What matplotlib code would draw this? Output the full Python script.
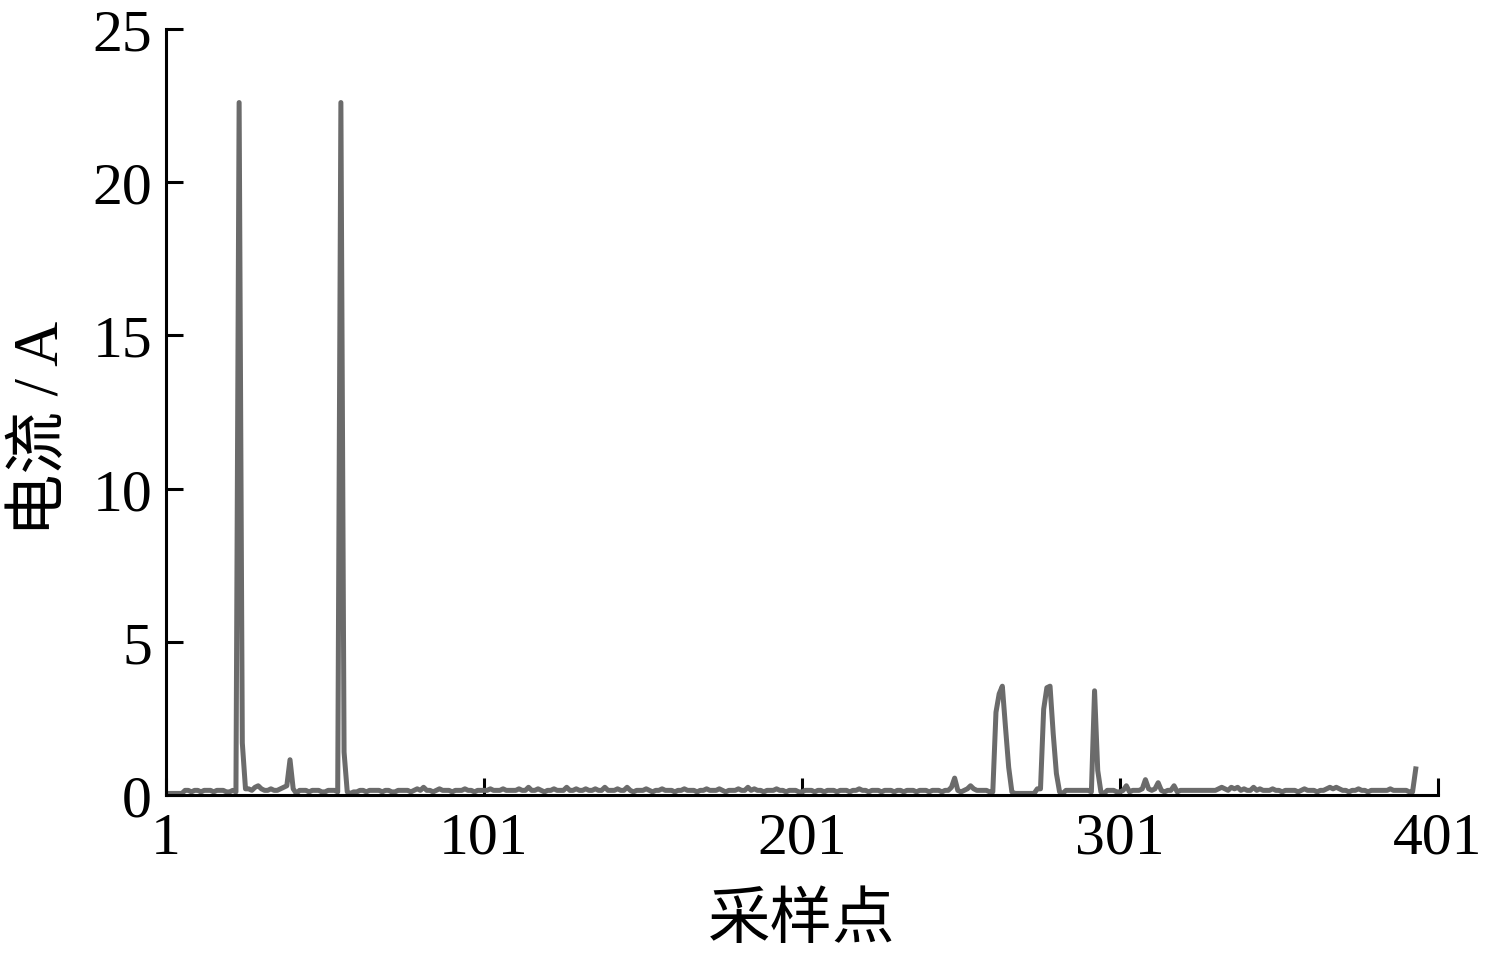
import numpy as np
import matplotlib
matplotlib.use("Agg")
import matplotlib.pyplot as plt

plt.rcParams['font.family'] = ['Liberation Serif', 'Noto Sans CJK SC']

# 电流 readings, one per sample point
current = [
    0.05, 0.05, 0.05, 0.05, 0.05, 0.05, 0.15, 0.15, 0.1, 0.15,
    0.15, 0.1, 0.15, 0.15, 0.15, 0.1, 0.15, 0.15, 0.15, 0.1,
    0.1, 0.15, 0.1, 22.6, 1.7, 0.2, 0.2, 0.15, 0.25, 0.3,
    0.2, 0.15, 0.15, 0.2, 0.15, 0.15, 0.2, 0.25, 0.3, 1.15,
    0.2, 0.05, 0.15, 0.15, 0.15, 0.1, 0.15, 0.15, 0.15, 0.1,
    0.1, 0.15, 0.15, 0.15, 0.1, 22.6, 1.4, 0.1, 0.05, 0.1,
    0.1, 0.15, 0.15, 0.1, 0.15, 0.15, 0.15, 0.15, 0.1, 0.15,
    0.15, 0.1, 0.1, 0.15, 0.15, 0.15, 0.15, 0.1, 0.15, 0.2,
    0.15, 0.25, 0.15, 0.15, 0.1, 0.15, 0.2, 0.15, 0.15, 0.15,
    0.1, 0.15, 0.15, 0.15, 0.2, 0.15, 0.15, 0.1, 0.15, 0.15,
    0.15, 0.15, 0.2, 0.15, 0.15, 0.15, 0.2, 0.15, 0.15, 0.15,
    0.15, 0.2, 0.15, 0.15, 0.25, 0.15, 0.15, 0.2, 0.15, 0.1,
    0.15, 0.15, 0.2, 0.15, 0.15, 0.15, 0.25, 0.15, 0.15, 0.2,
    0.15, 0.15, 0.2, 0.15, 0.15, 0.2, 0.15, 0.15, 0.25, 0.15,
    0.15, 0.15, 0.2, 0.15, 0.15, 0.25, 0.15, 0.1, 0.15, 0.15,
    0.15, 0.2, 0.15, 0.1, 0.15, 0.15, 0.2, 0.15, 0.15, 0.15,
    0.1, 0.15, 0.15, 0.2, 0.15, 0.15, 0.15, 0.1, 0.15, 0.15,
    0.2, 0.15, 0.15, 0.15, 0.2, 0.15, 0.1, 0.15, 0.15, 0.15,
    0.2, 0.15, 0.15, 0.25, 0.15, 0.2, 0.15, 0.15, 0.1, 0.15,
    0.15, 0.15, 0.2, 0.15, 0.15, 0.1, 0.15, 0.15, 0.15, 0.1,
    0.1, 0.15, 0.15, 0.15, 0.1, 0.15, 0.15, 0.1, 0.15, 0.15,
    0.15, 0.1, 0.15, 0.15, 0.15, 0.1, 0.15, 0.15, 0.2, 0.15,
    0.15, 0.1, 0.15, 0.15, 0.15, 0.1, 0.15, 0.15, 0.15, 0.1,
    0.15, 0.15, 0.1, 0.15, 0.15, 0.15, 0.1, 0.15, 0.15, 0.15,
    0.1, 0.15, 0.15, 0.15, 0.1, 0.15, 0.15, 0.25, 0.55, 0.15,
    0.1, 0.15, 0.2, 0.3, 0.2, 0.15, 0.15, 0.15, 0.15, 0.1,
    0.1, 2.7, 3.3, 3.55, 2.2, 0.9, 0.1, 0.05, 0.05, 0.05,
    0.05, 0.05, 0.05, 0.05, 0.2, 0.2, 2.8, 3.5, 3.55, 2.0,
    0.7, 0.1, 0.05, 0.15, 0.15, 0.15, 0.15, 0.15, 0.15, 0.15,
    0.15, 0.1, 3.4, 0.8, 0.1, 0.05, 0.15, 0.15, 0.15, 0.1,
    0.1, 0.15, 0.3, 0.1, 0.15, 0.15, 0.15, 0.2, 0.5, 0.2,
    0.15, 0.2, 0.4, 0.15, 0.1, 0.15, 0.15, 0.3, 0.1, 0.15,
    0.15, 0.15, 0.15, 0.15, 0.15, 0.15, 0.15, 0.15, 0.15, 0.15,
    0.15, 0.2, 0.25, 0.2, 0.15, 0.25, 0.2, 0.25, 0.15, 0.2,
    0.15, 0.15, 0.25, 0.15, 0.2, 0.15, 0.15, 0.15, 0.2, 0.15,
    0.15, 0.1, 0.15, 0.15, 0.15, 0.15, 0.1, 0.15, 0.2, 0.15,
    0.15, 0.15, 0.1, 0.15, 0.15, 0.2, 0.25, 0.2, 0.25, 0.2,
    0.15, 0.15, 0.1, 0.15, 0.15, 0.2, 0.15, 0.15, 0.1, 0.15,
    0.15, 0.15, 0.15, 0.15, 0.15, 0.2, 0.15, 0.15, 0.15, 0.15,
    0.15, 0.1, 0.1, 0.85,
]
samples = np.arange(1, len(current) + 1)

x_ticks = [1, 101, 201, 301, 401]
y_ticks = [0, 5, 10, 15, 20, 25]

fig = plt.figure(figsize=(14.9, 9.62), dpi=100)
ax = fig.add_axes([0.1114, 0.1726, 0.8537, 0.7962])

ax.plot(samples, current, color='#6b6b6b', linewidth=3.6, solid_joinstyle='round')

ax.set_xlim(1, 401)
ax.set_ylim(0, 25)
ax.set_xticks(x_ticks)
ax.set_yticks(y_ticks)

for side in ['top', 'right']:
    ax.spines[side].set_visible(False)
for side in ['left', 'bottom']:
    ax.spines[side].set_linewidth(2.2)

ax.tick_params(direction='in', length=12, width=2.2, labelsize=43, pad=10)
ax.tick_params(axis='x', pad=12)

ax.set_xlabel('采样点', fontsize=45)
ax.set_ylabel('电流 / A', fontsize=45)
ax.xaxis.set_label_coords(0.5, -0.128)
ax.yaxis.set_label_coords(-0.074, 0.48)

fig.savefig('out.png', dpi=100)
